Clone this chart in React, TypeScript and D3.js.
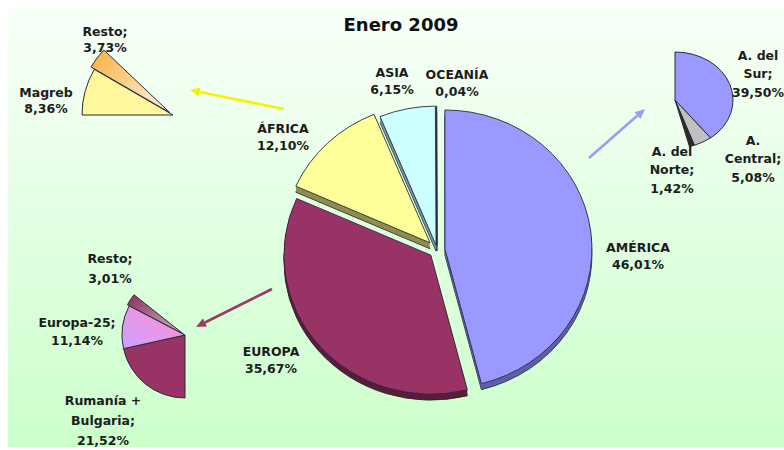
import React from "react";
import * as d3 from "d3";

// ---------- data ----------
const chartTitle = "Enero 2009";
const regionNames = ["AMÉRICA", "EUROPA", "ÁFRICA", "ASIA", "OCEANÍA"];
const regionValues = [46.01, 35.67, 12.1, 6.15, 0.04];
const americaNames = ["A. del\nSur;", "A.\nCentral;", "A. del\nNorte;"];
const americaValues = [39.5, 5.08, 1.42];
const europeNames = ["Rumanía +\nBulgaria;", "Europa-25;", "Resto;"];
const europeValues = [21.52, 11.14, 3.01];
const africaNames = ["Magreb", "Resto;"];
const africaValues = [8.36, 3.73];

// ---------- layout / style ----------
const W = 784;
const H = 450;
const FONT = "'DejaVu Sans', Verdana, sans-serif";
const TXT = "#1c1c1c";

const mainPie = {
  cx: 437, cy: 250, rx: 147, ry: 139, depth: 6, start: 0,
  fills: ["#9999ff", "#993366", "#ffff99", "#ccffff", "#9a9a9a"],
  sides: ["#5f5fb0", "#5a1b3c", "#8e8e52", "#6a9c9c", "#555"],
  explode: [8, 8, 10, 5, 5],
  labels: [[638, 247], [271, 351], [283, 128], [392, 72], [457, 74]],
  lineGap: 17,
};
const americaPie = {
  cx: 675, cy: 100, rx: 58, ry: 48, start: 0,
  fills: ["#9999ff", "#c0c0c0", "#2a2a2a"],
  labels: [[758, 55], [753, 140], [672, 151]],
  lineGap: 18.5,
};
const europePie = {
  cx: 185, cy: 335, rx: 63, ry: 63, start: Math.PI,
  fills: ["#993366", "url(#gEu25)", "url(#gEuResto)"],
  explode: [0, 0, 2],
  labels: [[103, 400], [77, 322], [110, 258]],
  lineGap: [20, 18, 20],
};
const africaPie = {
  cx: 173, cy: 115, rx: 91, ry: 91, start: 1.5 * Math.PI,
  fills: ["#fff79c", "url(#gAfResto)"],
  explode: [0, 4],
  labels: [[46, 92], [105, 31]],
  lineGap: 16,
};
const arrows = [
  { from: [284, 109], to: [190, 90], color: "#f4f400" },
  { from: [589, 158], to: [645, 109], color: "#9c9cf6" },
  { from: [272, 289], to: [196, 327], color: "#9b3a66" },
];

const fmt = (v: number) => d3.format(".2f")(v).replace(".", ",") + "%";

function makeSlices(values: number[], start: number) {
  const total = d3.sum(values);
  return d3
    .pie<number>()
    .sort(null)
    .value((d) => d)
    .startAngle(start)
    .endAngle(start + (2 * Math.PI * total) / 100)(values);
}

function Label({ x, y, lines, gap, size = 12.5 }: any) {
  return (
    <text
      x={x}
      y={y}
      textAnchor="middle"
      fontFamily={FONT}
      fontWeight="bold"
      fontSize={size}
      fill={TXT}
    >
      {lines.map((l: string, i: number) => (
        <tspan key={i} x={x} y={y + i * gap} dominantBaseline="central">
          {l}
        </tspan>
      ))}
    </text>
  );
}

function SubPie({ cfg, values, names }: any) {
  const arc = d3.arc<any>().innerRadius(0).outerRadius(cfg.ry);
  const k = cfg.rx / cfg.ry;
  const sl = makeSlices(values, cfg.start);
  return (
    <g>
      {sl.map((s, i) => {
        const mid = (s.startAngle + s.endAngle) / 2;
        const off = cfg.explode ? cfg.explode[i] : 0;
        const dx = off * Math.sin(mid);
        const dy = -off * Math.cos(mid);
        return (
          <path
            key={i}
            d={arc({ startAngle: s.startAngle, endAngle: s.endAngle }) || ""}
            transform={`translate(${cfg.cx + dx},${cfg.cy + dy}) scale(${k},1)`}
            fill={cfg.fills[i]}
            stroke="#2b2b3a"
            strokeWidth={1}
            vectorEffect="non-scaling-stroke"
            strokeLinejoin="round"
          />
        );
      })}
      {sl.map((s, i) => {
        const lines = names[i].split("\n");
        lines.push(fmt(values[i]));
        const gap = Array.isArray(cfg.lineGap) ? cfg.lineGap[i] : cfg.lineGap;
        return (
          <Label
            key={"l" + i}
            x={cfg.labels[i][0]}
            y={cfg.labels[i][1]}
            lines={lines}
            gap={gap}
          />
        );
      })}
    </g>
  );
}

function MainPie() {
  const cfg = mainPie;
  const arc = d3.arc<any>().innerRadius(0).outerRadius(cfg.ry);
  const k = cfg.rx / cfg.ry;
  const sl = makeSlices(regionValues, cfg.start);
  const offs = sl.map((s, i) => {
    const mid = (s.startAngle + s.endAngle) / 2;
    return [cfg.explode[i] * Math.sin(mid), -cfg.explode[i] * Math.cos(mid)];
  });
  const layers = d3.range(cfg.depth, 0, -1);
  return (
    <g>
      {layers.map((d) =>
        sl.map((s, i) => (
          <path
            key={`s${d}-${i}`}
            d={arc({ startAngle: s.startAngle, endAngle: s.endAngle }) || ""}
            transform={`translate(${cfg.cx + offs[i][0]},${cfg.cy + offs[i][1] + d}) scale(${k},1)`}
            fill={cfg.sides[i]}
            stroke={d === cfg.depth ? "#222" : "none"}
            strokeWidth={0.8}
            vectorEffect="non-scaling-stroke"
          />
        ))
      )}
      {sl.map((s, i) => (
        <path
          key={`t${i}`}
          d={arc({ startAngle: s.startAngle, endAngle: s.endAngle }) || ""}
          transform={`translate(${cfg.cx + offs[i][0]},${cfg.cy + offs[i][1]}) scale(${k},1)`}
          fill={cfg.fills[i]}
          stroke="#2a2a3a"
          strokeWidth={0.9}
          vectorEffect="non-scaling-stroke"
          strokeLinejoin="round"
        />
      ))}
      {sl.map((s, i) => (
        <Label
          key={`l${i}`}
          x={cfg.labels[i][0]}
          y={cfg.labels[i][1]}
          lines={[regionNames[i], fmt(regionValues[i])]}
          gap={cfg.lineGap}
        />
      ))}
    </g>
  );
}

function Arrow({ from, to, color }: any) {
  const [x1, y1] = from;
  const [x2, y2] = to;
  const ang = Math.atan2(y2 - y1, x2 - x1);
  const L = 10;
  const Wd = 4.5;
  const bx = x2 - L * Math.cos(ang);
  const by = y2 - L * Math.sin(ang);
  const px = -Math.sin(ang);
  const py = Math.cos(ang);
  const head = `M${x2},${y2}L${bx + Wd * px},${by + Wd * py}L${bx - Wd * px},${by - Wd * py}Z`;
  return (
    <g>
      <line x1={x1} y1={y1} x2={bx} y2={by} stroke={color} strokeWidth={2.6} />
      <path d={head} fill={color} />
    </g>
  );
}

export default function App() {
  return (
    <svg
      width={W}
      height={H}
      viewBox={`0 0 ${W} ${H}`}
      style={{ position: "absolute", left: 0, top: 0, display: "block" }}
    >
      <defs>
        <linearGradient id="bg" x1="0" y1="0" x2="0" y2="1">
          <stop offset="0" stopColor="#f8fff8" />
          <stop offset="1" stopColor="#ccffcc" />
        </linearGradient>
        <linearGradient id="gAfResto" x1="0" y1="0" x2="1" y2="1">
          <stop offset="0" stopColor="#f6b03c" />
          <stop offset="1" stopColor="#fff3e6" />
        </linearGradient>
        <linearGradient id="gEu25" x1="1" y1="0" x2="0" y2="1">
          <stop offset="0" stopColor="#ff8fd0" />
          <stop offset="1" stopColor="#cfa0ff" />
        </linearGradient>
        <linearGradient id="gEuResto" x1="0" y1="0" x2="1" y2="1">
          <stop offset="0" stopColor="#8e2f5e" />
          <stop offset="1" stopColor="#c8b8c0" />
        </linearGradient>
      </defs>
      <rect x={0} y={0} width={W} height={H} fill="#ffffff" />
      <rect x={8} y={9} width={W - 8} height={438} fill="url(#bg)" />
      <text
        x={401}
        y={24}
        textAnchor="middle"
        dominantBaseline="central"
        fontFamily={FONT}
        fontWeight="bold"
        fontSize={18}
        fill="#111"
      >
        {chartTitle}
      </text>
      {arrows.map((a, i) => (
        <Arrow key={i} {...a} />
      ))}
      <MainPie />
      <SubPie cfg={africaPie} values={africaValues} names={africaNames} />
      <SubPie cfg={americaPie} values={americaValues} names={americaNames} />
      <SubPie cfg={europePie} values={europeValues} names={europeNames} />
    </svg>
  );
}
